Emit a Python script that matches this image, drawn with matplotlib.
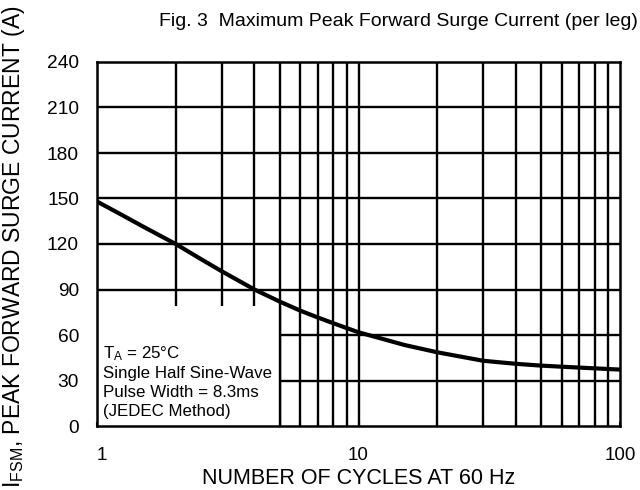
import matplotlib
matplotlib.use("Agg")
import matplotlib.pyplot as plt
import matplotlib.transforms as mtransforms
from matplotlib.patches import Rectangle

plt.rcParams['font.family'] = ['Liberation Sans', 'DejaVu Sans']
plt.rcParams['mathtext.fontset'] = 'custom'
plt.rcParams['mathtext.rm'] = 'Liberation Sans'
plt.rcParams['mathtext.it'] = 'Liberation Sans'

# Data
cycles = [1, 1.25, 1.5, 2, 2.5, 3, 4, 5, 6, 7, 8, 9, 10, 15, 20, 30, 40, 50, 70, 100]
current = [148, 139, 131.5, 120, 110, 102, 90, 82, 76, 71.5, 67.8, 64.6, 61.8, 53.4,
           48.6, 43, 41, 39.8, 38.5, 37.2]

y_ticks = [0, 30, 60, 90, 120, 150, 180, 210, 240]
x_ticks = [1, 10, 100]
x_tick_labels = ["1", "10", "100"]
x_grid = [2, 3, 4, 5, 6, 7, 8, 9, 10, 20, 30, 40, 50, 60, 70, 80, 90]

fig = plt.figure(figsize=(6.4, 4.9), dpi=100)
ax = fig.add_axes([97/640, 1-426/490, (620-97)/640, (426-62)/490])

ax.set_xscale('log')
ax.set_xlim(1, 100)
ax.set_ylim(0, 240)

# grid lines
ax.vlines(x_grid, 0, 240, colors='black', linewidth=1.7, zorder=1)
ax.hlines(y_ticks[1:-1], 1, 100, colors='black', linewidth=1.7, zorder=1)

# white text area covering the grid
ax.add_patch(Rectangle((1, 0), 5 - 1, 79, facecolor='white', edgecolor='none',
                       zorder=2))
ax.vlines([5], 0, 79, colors='black', linewidth=1.7, zorder=2.1)
ax.text(1.05, 54, "T$_\\mathregular{A}$ = 25°C\nSingle Half Sine-Wave\nPulse Width = 8.3ms\n(JEDEC Method)",
        fontsize=12.2, va='top', ha='left', linespacing=1.3, zorder=3)

ax.plot(cycles, current, color='black', linewidth=3.0, solid_joinstyle='round',
        solid_capstyle='round', zorder=4)

ax.set_yticks(y_ticks)
ax.set_xticks(x_ticks)
ax.set_xticklabels(x_tick_labels)
ax.xaxis.set_minor_locator(matplotlib.ticker.FixedLocator(x_grid))
ax.xaxis.set_minor_formatter(matplotlib.ticker.NullFormatter())
ax.tick_params(axis='x', which='major', direction='in', length=3, width=1.5,
               labelsize=13.5, pad=15)
ax.tick_params(axis='x', which='minor', direction='in', length=3, width=1.5)
ax.tick_params(axis='y', direction='in', length=0, labelsize=13.8, pad=13)
for s in ax.spines.values():
    s.set_linewidth(1.8)
    s.set_zorder(5)

# the "1" label sits slightly right of the axis corner in the reference
lbl = ax.get_xticklabels()[0]
lbl.set_transform(lbl.get_transform() + mtransforms.ScaledTranslation(5/100, 0, fig.dpi_scale_trans))

ax.set_xlabel("NUMBER OF CYCLES AT 60 Hz", fontsize=15.5, labelpad=3)
fig.text(14/640, 1-247/490, "I$_\\mathregular{FSM}$, PEAK FORWARD SURGE CURRENT (A)",
         rotation=90, fontsize=16.5, ha='center', va='center')
fig.text(398/640, 1-22/490, "Fig. 3  Maximum Peak Forward Surge Current (per leg)",
         fontsize=14, ha='center', va='center')

fig.savefig("out.png", dpi=100)
